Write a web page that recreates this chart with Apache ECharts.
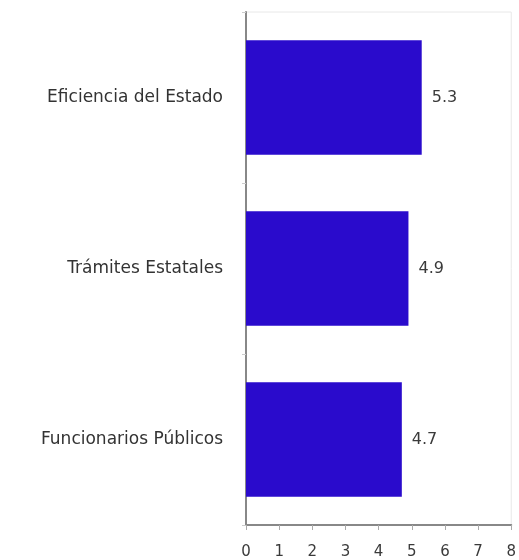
<!DOCTYPE html>
<html><head><meta charset="utf-8">
<script src="https://cdn.jsdelivr.net/npm/echarts@6/dist/echarts.min.js"></script>
<style>html,body{margin:0;padding:0;background:#fff}#c{width:519px;height:560px}</style>
</head><body><div id="c"></div>
<script>
const categories = ['Funcionarios Públicos', 'Trámites Estatales', 'Eficiencia del Estado'];
const values = [4.7, 4.9, 5.3];
const xTicks = [0, 1, 2, 3, 4, 5, 6, 7, 8];

const FONT = 'DejaVu Sans';
const chart = echarts.init(document.getElementById('c'));
chart.setOption({
  animation: false,
  backgroundColor: '#fff',
  grid: { left: 246, right: 5, top: 12, bottom: 35, show: true, borderColor: '#e8e8e8', borderWidth: 1 },
  xAxis: {
    type: 'value', min: xTicks[0], max: xTicks[xTicks.length - 1], interval: 1,
    splitLine: { show: false },
    axisLine: { show: true, lineStyle: { color: '#888', width: 2 } },
    axisTick: { show: true, length: 5, lineStyle: { color: '#aaa' } },
    axisLabel: { color: '#3a3a3a', fontSize: 15, fontFamily: FONT, margin: 20 }
  },
  yAxis: {
    type: 'category', data: categories,
    axisLine: { show: true, lineStyle: { color: '#888', width: 2 } },
    axisTick: { show: true, length: 4, lineStyle: { color: '#ccc' } },
    axisLabel: { color: '#333', fontSize: 17, fontFamily: FONT, margin: 23 }
  },
  series: [{
    type: 'bar', data: values, barCategoryGap: '33%',
    itemStyle: { color: '#2a0bcc' },
    label: { show: true, position: 'right', distance: 10, color: '#3a3a3a', fontSize: 16, fontFamily: FONT,
      formatter: p => p.value.toFixed(1) }
  }]
});
</script></body></html>
